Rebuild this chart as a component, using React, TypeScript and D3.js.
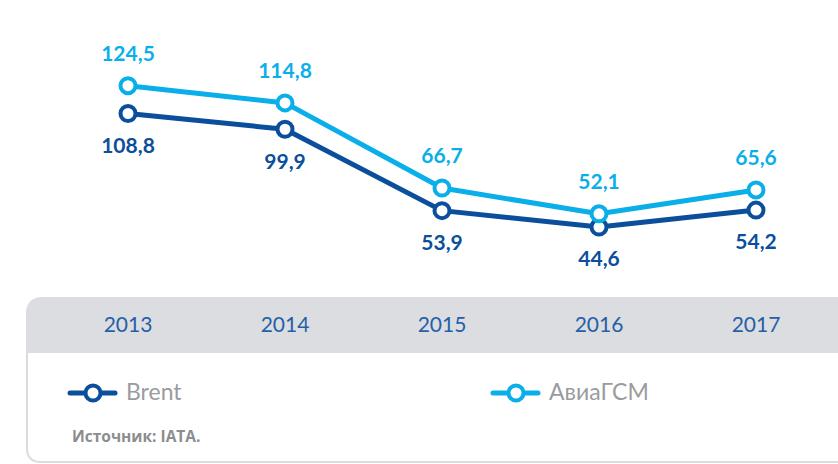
import React from 'react';
import * as d3 from 'd3';

const years = ['2013', '2014', '2015', '2016', '2017'];
const brent = [108.8, 99.9, 53.9, 44.6, 54.2];
const avia = [124.5, 114.8, 66.7, 52.1, 65.6];
const legendNames = ['Brent', 'АвиаГСМ'];
const source = 'Источник: IATA.';

const W = 838;
const H = 464;
const DARK = '#0b4f9c';
const LIGHT = '#0aafe9';

const fmt = (v: number) => v.toFixed(1).replace('.', ',');

const App = () => {
  const x = d3.scalePoint<string>().domain(years).range([128, 756]);
  const y = d3.scaleLinear().domain([0, 130]).range([306, 76]);

  const line = d3
    .line<number>()
    .x((_, i) => x(years[i]) as number)
    .y((d) => y(d));

  const series = [
    { name: legendNames[0], values: brent, color: DARK, above: false },
    { name: legendNames[1], values: avia, color: LIGHT, above: true },
  ];

  const font = 'Lato, "Open Sans", sans-serif';

  return (
    <svg width={W} height={H} style={{ position: 'absolute', left: 0, top: 0 }} fontFamily={font}>
      <rect width={W} height={H} fill="#fff" />
      {/* card outline */}
      <path
        d="M 27 310 L 27 448 Q 27 462 41 462 L 860 462"
        fill="none"
        stroke="#dcdcdc"
        strokeWidth={2}
      />
      {/* header band */}
      <path d="M 26 353 L 26 314 Q 26 297 43 297 L 838 297 L 838 353 Z" fill="#dcdde0" />
      {years.map((yr) => (
        <text
          key={yr}
          x={x(yr)}
          y={327}
          textAnchor="middle"
          dominantBaseline="middle"
          fontSize={21}
          fontWeight={400}
          fill="#2460a8"
        >
          {yr}
        </text>
      ))}

      {series.map((s) => (
        <g key={s.name}>
          <path d={line(s.values) || ''} fill="none" stroke={s.color} strokeWidth={5} strokeLinejoin="round" />
          {s.values.map((v, i) => (
            <g key={i}>
              <circle cx={x(years[i])} cy={y(v)} r={7.5} fill="#fff" stroke={s.color} strokeWidth={4} />
              <text
                x={x(years[i])}
                y={y(v) + (s.above ? -30 : 34)}
                textAnchor="middle"
                dominantBaseline="middle"
                fontSize={21}
                fontWeight={700}
                fill={s.color}
              >
                {fmt(v)}
              </text>
            </g>
          ))}
        </g>
      ))}

      {/* legend */}
      {series.map((s, i) => {
        const lx = i === 0 ? 70 : 493;
        return (
          <g key={'lg' + s.name}>
            <line x1={lx} x2={lx + 45} y1={393} y2={393} stroke={s.color} strokeWidth={5} strokeLinecap="round" />
            <circle cx={lx + 23} cy={393} r={7.5} fill="#fff" stroke={s.color} strokeWidth={4} />
            <text x={lx + 56} y={394} dominantBaseline="middle" fontSize={23} fill="#9a9b9e">
              {s.name}
            </text>
          </g>
        );
      })}
      <text
        x={72}
        y={438}
        dominantBaseline="middle"
        fontSize={15.5}
        fontWeight={700}
        fontFamily='"Open Sans", sans-serif'
        fill="#8c8d90"
      >
        {source}
      </text>
    </svg>
  );
};

export default App;
